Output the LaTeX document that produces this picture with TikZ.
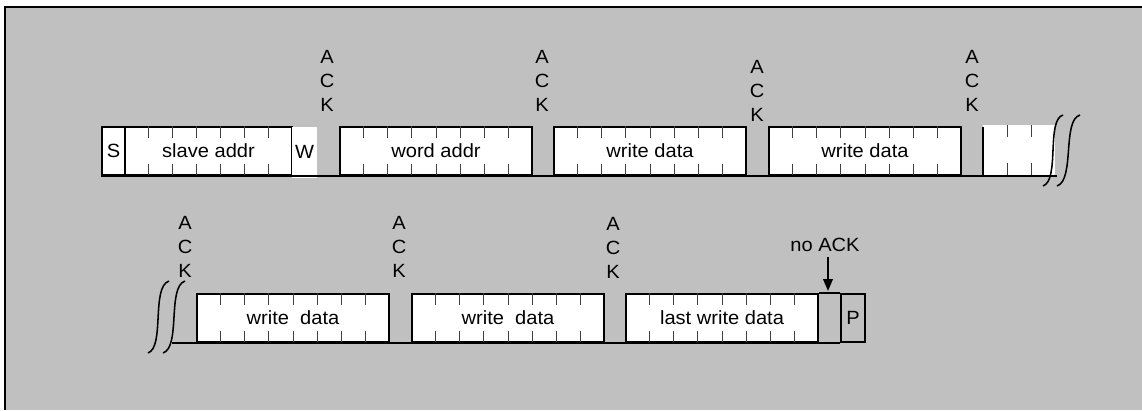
\documentclass[tikz,border=0pt]{standalone}
\usepackage{fontspec}
\setmainfont[FakeStretch=1.05]{Liberation Sans}
\usetikzlibrary{calc,arrows.meta}
\definecolor{panel}{HTML}{C0C0C0}
\tikzset{
  field/.style={draw, line width=1.4pt, fill=white, minimum height=1.2cm, inner sep=0pt, anchor=south west},
  tickline/.style={line width=0.7pt, draw=black!75},
  acklabel/.style={align=center, inner sep=0pt},
  wire/.style={line width=1.4pt},
  squiggle/.style={line width=1.1pt},
}
% bit ticks inside a field: node, number of cells
\newcommand\fieldticks[2]{%
  \foreach\i in {1,...,#2}
    {
    \ifnum\i<#2
      \draw[tickline] ($(#1.north west)!\i/#2!(#1.north east)$) -- ++(0,12);
      \draw[tickline] ($(#1.south west)!\i/#2!(#1.south east)$) -- ++(0,-12);
    \fi
    }%
}

\begin{document}
\begin{tikzpicture}[x=0.025cm, y=-0.025cm, font=\fontsize{13.6}{17}\selectfont]
\useasboundingbox (0,0) rectangle (1142,410);
\fill[white] (0,0) rectangle (1142,410);
\fill[panel] (5,7) rectangle (1142,410);
\draw[line width=1.4pt] (5,410) -- (5,7) -- (1142,7);

% first line
\coordinate (topend) at (1057,176);
\draw[wire] (101,176) -- (topend);
\node[field, minimum width=0.575cm] (start) at (101,176) {S};
\node[field, minimum width=4.175cm] (slave) at (124,176) {slave addr};
\node[fill=white, inner sep=0pt, anchor=south west, minimum width=0.625cm, minimum height=1.275cm] (rw) at (291.7,178) {W};
\node[field, minimum width=4.8cm] (word) at (339,176) {word addr};
\node[field, minimum width=4.8cm] (data1) at (553,176) {write data};
\node[field, minimum width=4.8cm] (data2) at (768,176) {write data};
\node[fill=white, inner sep=0pt, anchor=south west, minimum width=1.8cm, minimum height=1.25cm] (more) at (983,175.3) {};
\draw[wire] (more.south west) ++(0,1) -- ($(more.north west)+(0,2)$);
\fieldticks{slave}{7}
\fieldticks{word}{8}
\fieldticks{data1}{8}
\fieldticks{data2}{8}
\fieldticks{more}{3}
\draw[wire] (start.south west) -- (topend);

\foreach\x/\y [count=\n] in {327/81, 542/81, 757/91, 972/81}
  {
  \node[acklabel] (ackt\n) at (\x,\y) {A\\C\\K};
  }

\draw[squiggle] (1043,186) .. controls (1060,180) and (1046,120) .. (1063,115);
\draw[squiggle] (1057,186) .. controls (1075,180) and (1062,120) .. (1080,115);

% second line
\coordinate (botstart) at (172,343);
\node[field, minimum width=4.8cm] (data3) at (196,343) {write\ \ data};
\node[field, minimum width=4.8cm] (data4) at (411,343) {write\ \ data};
\node[field, minimum width=4.8cm] (last) at (625,343) {last write data};
\node[field, fill=panel, minimum width=0.6cm] (stop) at (840,343) {P};
\fieldticks{data3}{8}
\fieldticks{data4}{8}
\fieldticks{last}{8}
\draw[wire] (botstart) -- (stop.south west);
\draw[wire] (last.north east) -- (stop.north west);

\foreach\x/\y [count=\n] in {185/247, 399/247, 613/248}
  {
  \node[acklabel] (ackb\n) at (\x,\y) {A\\C\\K};
  }

\draw[squiggle] (148,353) .. controls (165,347) and (151,287) .. (169,281);
\draw[squiggle] (163,353) .. controls (181,347) and (167,287) .. (185,281);

\node (noack) at (825,245) {no ACK};
\coordinate (noackpt) at (828,291);
\draw[wire, -{Triangle[length=0.3cm, width=0.24cm]}] (noack.south -| noackpt) -- (noackpt);

\end{tikzpicture}
\end{document}
